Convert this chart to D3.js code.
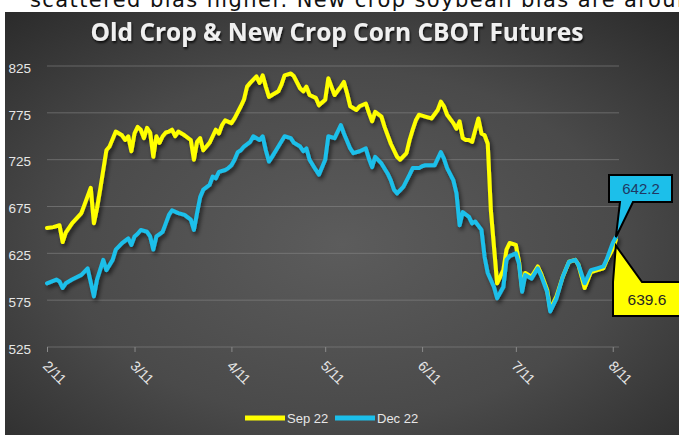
<!DOCTYPE html>
<html><head><meta charset="utf-8">
<script src="https://cdn.jsdelivr.net/npm/d3@7"></script>
<style>html,body{margin:0;padding:0;background:#fff;overflow:hidden}</style>
</head><body>
<svg id="c" width="679" height="435"></svg>
<script>
const titleText = "Old Crop & New Crop Corn CBOT Futures";
const topText = "scattered bias higher.  New crop soybean bias are around";
const seriesNames = ["Sep 22", "Dec 22"];
const seriesColors = ["#FFFF00", "#1CBFEA"];
const yTicks = [525, 575, 625, 675, 725, 775, 825];
const xTickDates = ["2022-02-11","2022-03-11","2022-04-11","2022-05-11","2022-06-11","2022-07-11","2022-08-11"];

const sepDates = ["2022-02-11","2022-02-13","2022-02-15","2022-02-16","2022-02-17","2022-02-19","2022-02-22","2022-02-23","2022-02-25","2022-02-26","2022-02-27","2022-02-28",
"2022-03-02","2022-03-03","2022-03-05","2022-03-07","2022-03-08","2022-03-09","2022-03-10","2022-03-11","2022-03-12","2022-03-13","2022-03-14","2022-03-15","2022-03-16","2022-03-17","2022-03-18","2022-03-19","2022-03-20","2022-03-21","2022-03-22","2022-03-23","2022-03-24","2022-03-25","2022-03-27","2022-03-29","2022-03-30","2022-03-31",
"2022-04-01","2022-04-02","2022-04-04","2022-04-05","2022-04-06","2022-04-07","2022-04-08","2022-04-09","2022-04-11","2022-04-12","2022-04-14","2022-04-15","2022-04-16","2022-04-17","2022-04-19","2022-04-20","2022-04-21","2022-04-22","2022-04-23","2022-04-24","2022-04-26","2022-04-27","2022-04-28","2022-04-30",
"2022-05-01","2022-05-03","2022-05-04","2022-05-05","2022-05-06","2022-05-08","2022-05-09","2022-05-11","2022-05-12","2022-05-13","2022-05-14","2022-05-16","2022-05-17","2022-05-18","2022-05-19","2022-05-21","2022-05-22","2022-05-24","2022-05-25","2022-05-26","2022-05-27","2022-05-29","2022-05-30",
"2022-06-01","2022-06-03","2022-06-04","2022-06-06","2022-06-07","2022-06-08","2022-06-09","2022-06-10","2022-06-12","2022-06-14","2022-06-16","2022-06-17","2022-06-18","2022-06-19","2022-06-21","2022-06-22","2022-06-23","2022-06-24","2022-06-25","2022-06-26","2022-06-27","2022-06-29","2022-06-30",
"2022-07-01","2022-07-02","2022-07-03","2022-07-05","2022-07-07","2022-07-08","2022-07-09","2022-07-11","2022-07-12","2022-07-13","2022-07-14","2022-07-16","2022-07-18","2022-07-19","2022-07-21","2022-07-22","2022-07-24","2022-07-26","2022-07-28","2022-07-30","2022-07-31",
"2022-08-02","2022-08-04","2022-08-06","2022-08-08","2022-08-09","2022-08-11","2022-08-12"];
const sepValues = [652,653,655,637,647,657,668,677,695,657,673,693,
735,739,755,751,746,750,734,753,760,757,748,759,754,728,750,743,750,754,755,757,750,755,751,746,725,744,
748,735,743,750,757,753,762,767,764,769,782,789,803,807,814,807,815,803,792,794,798,805,815,817,
814,801,798,803,794,791,783,789,812,803,794,803,808,796,782,778,782,785,775,766,776,771,760,
742,728,725,732,746,757,767,773,771,769,778,787,782,773,764,758,766,748,746,746,744,769,753,
751,742,671,593,607,629,636,634,616,587,604,600,611,604,586,565,579,600,616,618,613,
588,605,607,609,617,630,639.6];

const decDates = ["2022-02-11","2022-02-14","2022-02-15","2022-02-16","2022-02-17","2022-02-19","2022-02-22","2022-02-24","2022-02-26","2022-02-27",
"2022-03-01","2022-03-02","2022-03-04","2022-03-05","2022-03-07","2022-03-09","2022-03-10","2022-03-11","2022-03-12","2022-03-13","2022-03-15","2022-03-16","2022-03-17","2022-03-18","2022-03-20","2022-03-21","2022-03-22","2022-03-23","2022-03-25","2022-03-27","2022-03-29","2022-03-30","2022-03-31",
"2022-04-01","2022-04-02","2022-04-04","2022-04-05","2022-04-06","2022-04-07","2022-04-09","2022-04-10","2022-04-11","2022-04-12","2022-04-13","2022-04-14","2022-04-15","2022-04-17","2022-04-18","2022-04-20","2022-04-21","2022-04-22","2022-04-23","2022-04-24","2022-04-26","2022-04-28","2022-04-30",
"2022-05-01","2022-05-03","2022-05-04","2022-05-05","2022-05-06","2022-05-08","2022-05-09","2022-05-11","2022-05-12","2022-05-14","2022-05-15","2022-05-16","2022-05-17","2022-05-19","2022-05-20","2022-05-22","2022-05-24","2022-05-25","2022-05-26","2022-05-27","2022-05-29","2022-05-31",
"2022-06-01","2022-06-02","2022-06-03","2022-06-05","2022-06-07","2022-06-08","2022-06-10","2022-06-11","2022-06-12","2022-06-15","2022-06-16","2022-06-17","2022-06-18","2022-06-19","2022-06-21","2022-06-22","2022-06-23","2022-06-24","2022-06-26","2022-06-27","2022-06-28","2022-06-30",
"2022-07-01","2022-07-02","2022-07-04","2022-07-05","2022-07-07","2022-07-08","2022-07-09","2022-07-11","2022-07-12","2022-07-13","2022-07-14","2022-07-16","2022-07-18","2022-07-19","2022-07-21","2022-07-22","2022-07-24","2022-07-26","2022-07-28","2022-07-30","2022-07-31",
"2022-08-02","2022-08-04","2022-08-06","2022-08-08","2022-08-09","2022-08-11","2022-08-12"];
const decValues = [593,597,595,588,593,597,602,609,579,597,
618,607,618,629,636,641,634,643,646,650,648,643,629,643,648,657,666,671,668,666,661,650,668,
685,693,698,707,705,712,714,716,719,725,733,735,739,744,750,746,750,735,723,728,739,750,748,
743,739,734,737,725,714,709,725,750,748,755,762,753,737,732,734,737,726,717,728,721,710,
703,693,689,696,709,716,716,718,719,719,726,733,726,716,703,689,655,669,664,657,659,650,
621,604,589,577,589,618,622,625,614,584,602,598,609,602,584,563,577,600,616,618,613,
593,607,609,611,618,636,642.2];

const parse = d3.timeParse("%Y-%m-%d");
const sepData = sepDates.map((d, i) => ({date: parse(d), v: sepValues[i]}));
const decData = decDates.map((d, i) => ({date: parse(d), v: decValues[i]}));

const svg = d3.select("#c");
const defs = svg.append("defs");
const grad = defs.append("radialGradient").attr("id", "bg")
  .attr("cx", "50%").attr("cy", "55%").attr("r", "75%");
grad.append("stop").attr("offset", "0%").attr("stop-color", "#5c5c5c");
grad.append("stop").attr("offset", "55%").attr("stop-color", "#4a4a4a");
grad.append("stop").attr("offset", "100%").attr("stop-color", "#2a2a2a");

const sh = defs.append("filter").attr("id", "shadow").attr("x", "-10%").attr("y", "-10%").attr("width", "130%").attr("height", "130%");
sh.append("feDropShadow").attr("dx", 2).attr("dy", 3).attr("stdDeviation", 2)
  .attr("flood-color", "#000").attr("flood-opacity", 0.6);
const tsh = defs.append("filter").attr("id", "tshadow").attr("x", "-5%").attr("y", "-30%").attr("width", "110%").attr("height", "170%");
tsh.append("feDropShadow").attr("dx", 1).attr("dy", 2).attr("stdDeviation", 1.2)
  .attr("flood-color", "#000").attr("flood-opacity", 0.8);

// top partial text (cut by the page edge, as in the source)
svg.append("text").attr("x", 30).attr("y", 7)
  .attr("font-family", "'URW Gothic', 'Century Gothic', 'DejaVu Sans', sans-serif")
  .attr("font-size", 21).attr("fill", "#111")
  .attr("textLength", 675).attr("lengthAdjust", "spacing").text(topText);

// chart background
svg.append("rect").attr("x", 5).attr("y", 12).attr("width", 674).attr("height", 423).attr("fill", "url(#bg)");

// title
const title = svg.append("text").attr("x", 337).attr("y", 41).attr("text-anchor", "middle")
  .attr("font-family", "'Open Sans', sans-serif").attr("font-weight", 700)
  .attr("font-size", 20).attr("fill", "#f0f0f0").attr("filter", "url(#tshadow)").text(titleText);
const tl = title.node().getComputedTextLength();
title.attr("font-size", 20 * 493 / tl);

const x = d3.scaleTime().domain([parse("2022-02-11"), parse("2022-08-13")]).range([47, 619]);
const y = d3.scaleLinear().domain([525, 825]).range([347, 66]);

// grid
svg.append("g").selectAll("line").data(yTicks).join("line")
  .attr("x1", 47).attr("x2", 619).attr("y1", d => y(d)).attr("y2", d => y(d))
  .attr("stroke", "#8a8a8a").attr("stroke-opacity", 0.55).attr("stroke-width", 1);

// y labels
svg.append("g").selectAll("text").data(yTicks).join("text")
  .attr("x", 31).attr("y", d => y(d) + 2).attr("dy", "0.35em").attr("text-anchor", "end")
  .attr("font-family", "'Liberation Sans', Arial, sans-serif").attr("font-size", 13.5)
  .attr("fill", "#e6e6e6").text(d => d);

// x axis
const xAxis = d3.axisBottom(x).tickValues(xTickDates.map(parse))
  .tickFormat(d3.timeFormat("%-m/%-d")).tickSize(5).tickSizeOuter(0);
const gx = svg.append("g").attr("transform", "translate(0,347)").call(xAxis);
gx.select(".domain").remove();
gx.selectAll(".tick line").attr("stroke", "#8a8a8a");
gx.selectAll(".tick text")
  .attr("font-family", "'Liberation Sans', Arial, sans-serif").attr("font-size", 14)
  .attr("fill", "#e6e6e6")
  .attr("text-anchor", "start").attr("x", 10).attr("y", 13).attr("dy", "0.35em")
  .attr("transform", "rotate(45)");

// lines
const line = d3.line().x(d => x(d.date)).y(d => y(d.v)).curve(d3.curveLinear);
const lg = svg.append("g").attr("filter", "url(#shadow)");
lg.append("path").datum(sepData).attr("d", line).attr("fill", "none")
  .attr("stroke", seriesColors[0]).attr("stroke-width", 4).attr("stroke-linejoin", "round").attr("stroke-linecap", "round");
lg.append("path").datum(decData).attr("d", line).attr("fill", "none")
  .attr("stroke", seriesColors[1]).attr("stroke-width", 4).attr("stroke-linejoin", "round").attr("stroke-linecap", "round");

// callouts
const decLast = decData[decData.length - 1];
const sepLast = sepData[sepData.length - 1];
const bx = x(decLast.date), by = y(decLast.v);
svg.append("path")
  .attr("d", `M609,175 H672 V202 H633 L${bx},${by} L620,202 H609 Z`)
  .attr("fill", seriesColors[1]).attr("stroke", "#000").attr("stroke-width", 2).attr("stroke-linejoin", "miter");
svg.append("text").attr("x", 641).attr("y", 189).attr("dy", "0.35em").attr("text-anchor", "middle")
  .attr("font-family", "'Liberation Sans', Arial, sans-serif").attr("font-size", 15)
  .attr("fill", "#1F3864").text(decLast.v.toFixed(1));

const sx = x(sepLast.date), sy = y(sepLast.v) + 6;
svg.append("path")
  .attr("d", `M${sx},${sy} L642,282 H690 V316 H613 V282 Z`)
  .attr("fill", seriesColors[0]).attr("stroke", "#000").attr("stroke-width", 2).attr("stroke-linejoin", "miter");
svg.append("text").attr("x", 647).attr("y", 300).attr("dy", "0.35em").attr("text-anchor", "middle")
  .attr("font-family", "'Liberation Sans', Arial, sans-serif").attr("font-size", 15.5)
  .attr("fill", "#262626").text(sepLast.v.toFixed(1));

// legend
const legX = [245, 335];
const leg = svg.append("g");
seriesNames.forEach((n, i) => {
  leg.append("line").attr("x1", legX[i]).attr("x2", legX[i] + 40).attr("y1", 418).attr("y2", 418)
    .attr("stroke", seriesColors[i]).attr("stroke-width", 5);
  leg.append("text").attr("x", legX[i] + 42).attr("y", 418).attr("dy", "0.35em")
    .attr("font-family", "'Liberation Sans', Arial, sans-serif").attr("font-size", 13)
    .attr("fill", "#e6e6e6").text(n);
});
</script>
</body></html>
